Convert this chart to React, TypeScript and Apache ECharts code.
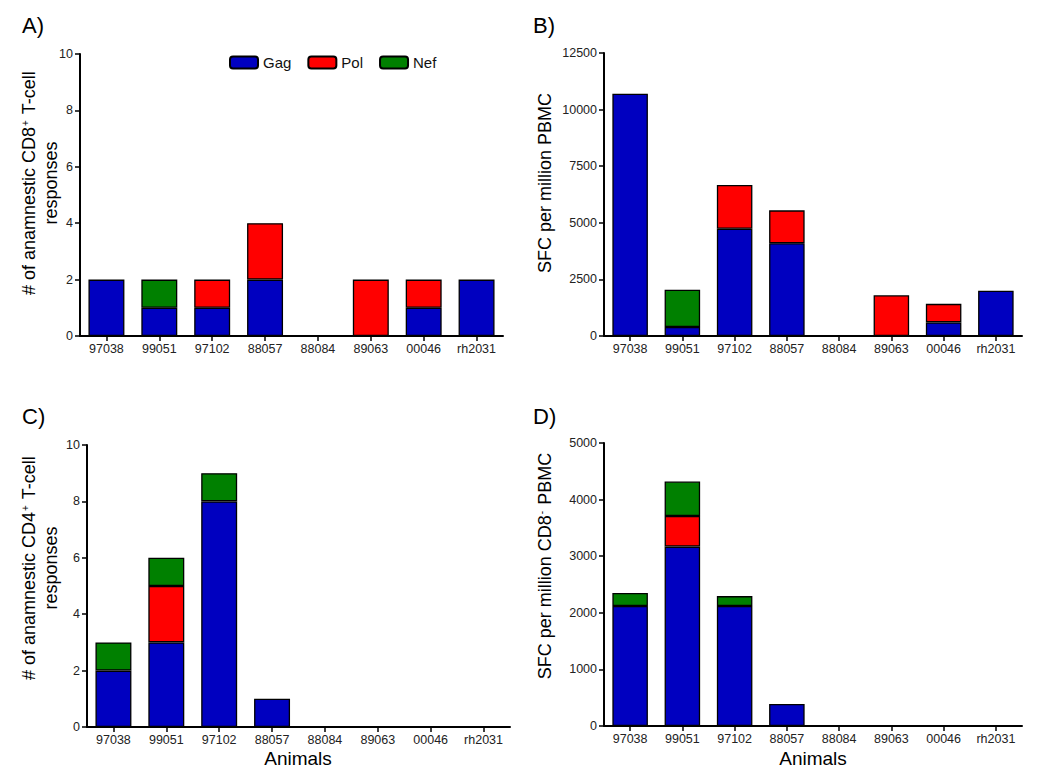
import React, { useEffect, useRef } from "react";
import * as echarts from "echarts";

const animals = ["97038", "99051", "97102", "88057", "88084", "89063", "00046", "rh2031"];
const seriesNames = ["Gag", "Pol", "Nef"];
const colors = ["#0000C0", "#FF0000", "#008000"];

// Panel A: # of anamnestic CD8+ T-cell responses
const aGag = [2, 1, 1, 2, 0, 0, 1, 2];
const aPol = [0, 0, 1, 2, 0, 2, 1, 0];
const aNef = [0, 1, 0, 0, 0, 0, 0, 0];
// Panel B: SFC per million PBMC
const bGag = [10700, 400, 4740, 4100, 0, 0, 600, 2000];
const bPol = [0, 0, 1930, 1450, 0, 1800, 820, 0];
const bNef = [0, 1640, 0, 0, 0, 0, 0, 0];
// Panel C: # of anamnestic CD4+ T-cell responses
const cGag = [2, 3, 8, 1, 0, 0, 0, 0];
const cPol = [0, 2, 0, 0, 0, 0, 0, 0];
const cNef = [1, 1, 1, 0, 0, 0, 0, 0];
// Panel D: SFC per million CD8- PBMC
const dGag = [2120, 3170, 2120, 390, 0, 0, 0, 0];
const dPol = [0, 540, 0, 0, 0, 0, 0, 0];
const dNef = [230, 610, 175, 0, 0, 0, 0, 0];

const yTicksA = { min: 0, max: 10, interval: 2 };
const yTicksB = { min: 0, max: 12500, interval: 2500 };
const yTicksC = { min: 0, max: 10, interval: 2 };
const yTicksD = { min: 0, max: 5000, interval: 1000 };

const FONT = "'Liberation Sans', Arial, Helvetica, sans-serif";

const titleRich = {
  n: { fontSize: 18, fontFamily: FONT, fill: "#000" },
  sup: { fontSize: 10, fontFamily: FONT, fill: "#000", verticalAlign: "top", padding: [0, 1, 0, 1] },
};

function yTitle(text: string, x: number, y: number) {
  return {
    type: "text",
    x,
    y,
    rotation: Math.PI / 2,
    style: {
      text,
      fontSize: 18,
      fill: "#000",
      fontFamily: FONT,
      align: "center",
      verticalAlign: "middle",
      rich: titleRich,
    },
  };
}

export default function App() {
  const ref = useRef<HTMLDivElement>(null);
  useEffect(() => {
    document.body.style.margin = "0";
    const chart = echarts.init(ref.current!, undefined, { renderer: "svg" });
    const panels = [
      { data: [aGag, aPol, aNef], y: yTicksA, grid: { left: 80, top: 54, width: 423, height: 282 } },
      { data: [bGag, bPol, bNef], y: yTicksB, grid: { left: 604, top: 53, width: 418, height: 283 } },
      { data: [cGag, cPol, cNef], y: yTicksC, grid: { left: 87, top: 445, width: 423, height: 282 } },
      { data: [dGag, dPol, dNef], y: yTicksD, grid: { left: 604, top: 443, width: 418, height: 283 } },
    ];
    const axisLine = { show: true, onZero: false, lineStyle: { color: "#000", width: 2 } };
    const option: any = {
      animation: false,
      backgroundColor: "#fff",
      textStyle: { fontFamily: FONT },
      grid: panels.map((p) => ({ ...p.grid, containLabel: false })),
      xAxis: panels.map((p, i) => ({
        type: "category",
        gridIndex: i,
        data: animals,
        axisLine,
        axisTick: { show: true, alignWithLabel: true, length: 5, lineStyle: { color: "#000", width: 1.5 } },
        axisLabel: { color: "#222", fontSize: 12.5, margin: 6, fontFamily: FONT, interval: 0 },
        splitLine: { show: false },
      })),
      yAxis: panels.map((p, i) => ({
        type: "value",
        gridIndex: i,
        min: p.y.min,
        max: p.y.max,
        interval: p.y.interval,
        axisLine,
        axisTick: { show: true, length: 5, lineStyle: { color: "#000", width: 1.5 } },
        axisLabel: { color: "#222", fontSize: 12.5, margin: 7, fontFamily: FONT, formatter: (v: number) => String(v) },
        splitLine: { show: false },
      })),
      legend: {
        left: 229,
        top: 55,
        padding: 0,
        itemWidth: 28,
        itemHeight: 12,
        itemGap: 16,
        data: seriesNames,
        textStyle: { fontSize: 15, color: "#111", fontFamily: FONT },
        selectedMode: false,
      },
      series: panels.flatMap((p, i) =>
        seriesNames.map((name, k) => ({
          name,
          type: "bar",
          stack: "s" + i,
          xAxisIndex: i,
          yAxisIndex: i,
          barCategoryGap: "32%",
          data: p.data[k].map((v) => (v === 0 ? "-" : v)),
          itemStyle: { color: colors[k], borderColor: "#000", borderWidth: 1.3 },
        }))
      ),
      graphic: [
        { type: "text", left: 22, top: 14, style: { text: "A)", fontSize: 22, fill: "#000", fontFamily: FONT } },
        { type: "text", left: 533, top: 14, style: { text: "B)", fontSize: 22, fill: "#000", fontFamily: FONT } },
        { type: "text", left: 22, top: 405, style: { text: "C)", fontSize: 22, fill: "#000", fontFamily: FONT } },
        { type: "text", left: 533, top: 405, style: { text: "D)", fontSize: 22, fill: "#000", fontFamily: FONT } },
        yTitle("{n|# of anamnestic CD8}{sup|+}{n| T-cell}", 29, 183),
        yTitle("responses", 51, 183),
        yTitle("SFC per million PBMC", 545, 183),
        yTitle("{n|# of anamnestic CD4}{sup|+}{n| T-cell}", 29, 568),
        yTitle("responses", 51, 568),
        yTitle("{n|SFC per million CD8}{sup|-}{n| PBMC}", 545, 566),
        {
          type: "text", x: 298, y: 758,
          style: { text: "Animals", fontSize: 19, fill: "#000", fontFamily: FONT, align: "center", verticalAlign: "middle" },
        },
        {
          type: "text", x: 813, y: 758,
          style: { text: "Animals", fontSize: 19, fill: "#000", fontFamily: FONT, align: "center", verticalAlign: "middle" },
        },
      ],
    };
    chart.setOption(option);
    return () => chart.dispose();
  }, []);
  return <div ref={ref} style={{ width: 1050, height: 778 }} />;
}
